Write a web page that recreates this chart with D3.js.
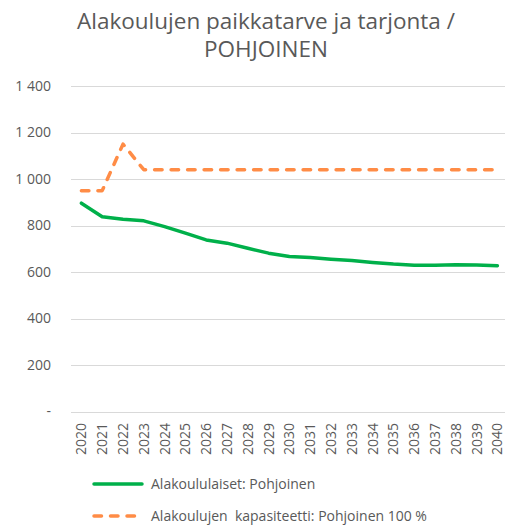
<!DOCTYPE html>
<html>
<head>
<meta charset="utf-8">
<script src="https://cdn.jsdelivr.net/npm/d3@7"></script>
<style>
  body { margin: 0; background: #fff; }
  text { font-family: "Open Sans", sans-serif; fill: #595959; }
</style>
</head>
<body>
<div id="wrapper"></div>
<script>
const years = ["2020","2021","2022","2023","2024","2025","2026","2027","2028","2029","2030",
               "2031","2032","2033","2034","2035","2036","2037","2038","2039","2040"];
const pupils = [896, 838, 827, 820, 795, 767, 738, 724, 702, 681, 667,
                662, 655, 649, 641, 634, 629, 629, 631, 630, 627];
const capacity = [950, 950, 1150, 1040, 1040, 1040, 1040, 1040, 1040, 1040, 1040,
                  1040, 1040, 1040, 1040, 1040, 1040, 1040, 1040, 1040, 1040];
const yTicks = [0, 200, 400, 600, 800, 1000, 1200, 1400];
const seriesNames = ["Alakoululaiset: Pohjoinen", "Alakoulujen  kapasiteetti: Pohjoinen 100 %"];

const width = 505, height = 526;
const margin = { top: 86, left: 71, right: 0, bottom: 115 };

const svg = d3.select("#wrapper").append("svg")
    .attr("width", width)
    .attr("height", height);

// title
const title = svg.append("text")
    .attr("text-anchor", "middle")
    .style("font-size", "22.5px");
title.append("tspan").attr("x", 266).attr("y", 29).text("Alakoulujen paikkatarve ja tarjonta /");
title.append("tspan").attr("x", 266).attr("y", 57).text("POHJOINEN");

const x = d3.scaleBand()
    .domain(years)
    .range([margin.left, margin.left + 21 * 20.8]);

const y = d3.scaleLinear()
    .domain([0, 1400])
    .range([411.5, margin.top]);

// gridlines
svg.append("g")
    .selectAll("line")
    .data(yTicks)
    .join("line")
    .attr("x1", margin.left)
    .attr("x2", width)
    .attr("y1", d => Math.round(y(d)) + 0.5)
    .attr("y2", d => Math.round(y(d)) + 0.5)
    .attr("stroke", "#d9d9d9")
    .attr("stroke-width", 1);

// y labels
const fmt = d => d === 0 ? "-" : d3.format(",")(d).replace(",", " ");
svg.append("g")
    .selectAll("text")
    .data(yTicks)
    .join("text")
    .attr("x", 51)
    .attr("y", d => y(d))
    .attr("dy", "0.35em")
    .attr("text-anchor", "end")
    .style("font-size", "14px")
    .text(fmt);

// x labels, rotated
svg.append("g")
    .selectAll("text")
    .data(years)
    .join("text")
    .attr("transform", d => `translate(${x(d) + x.bandwidth() / 2 + 5},${423}) rotate(-90)`)
    .attr("text-anchor", "end")
    .style("font-size", "14px")
    .text(d => d);

const line = d3.line()
    .x((d, i) => x(years[i]) + x.bandwidth() / 2)
    .y(d => y(d));

svg.append("path")
    .attr("d", line(capacity))
    .attr("fill", "none")
    .attr("stroke", "#ff8c46")
    .attr("stroke-width", 3.5)
    .attr("stroke-linecap", "round")
    .attr("stroke-linejoin", "round")
    .attr("stroke-dasharray", "7.5 9");

svg.append("path")
    .attr("d", line(pupils))
    .attr("fill", "none")
    .attr("stroke", "#00b04a")
    .attr("stroke-width", 3.5)
    .attr("stroke-linecap", "round")
    .attr("stroke-linejoin", "round");

// legend
const legend = svg.append("g");
const legendY = [484, 516];
const legendColor = ["#00b04a", "#ff8c46"];
legend.selectAll("line")
    .data(seriesNames)
    .join("line")
    .attr("x1", 94)
    .attr("x2", 142)
    .attr("y1", (d, i) => legendY[i])
    .attr("y2", (d, i) => legendY[i])
    .attr("stroke", (d, i) => legendColor[i])
    .attr("stroke-width", 3.5)
    .attr("stroke-linecap", "round")
    .attr("stroke-dasharray", (d, i) => i === 1 ? "7.5 9" : null);

legend.selectAll("text")
    .data(seriesNames)
    .join("text")
    .attr("x", 151)
    .attr("y", (d, i) => legendY[i])
    .attr("dy", "0.35em")
    .style("font-size", "14px")
    .style("white-space", "pre")
    .text(d => d);
</script>
</body>
</html>
